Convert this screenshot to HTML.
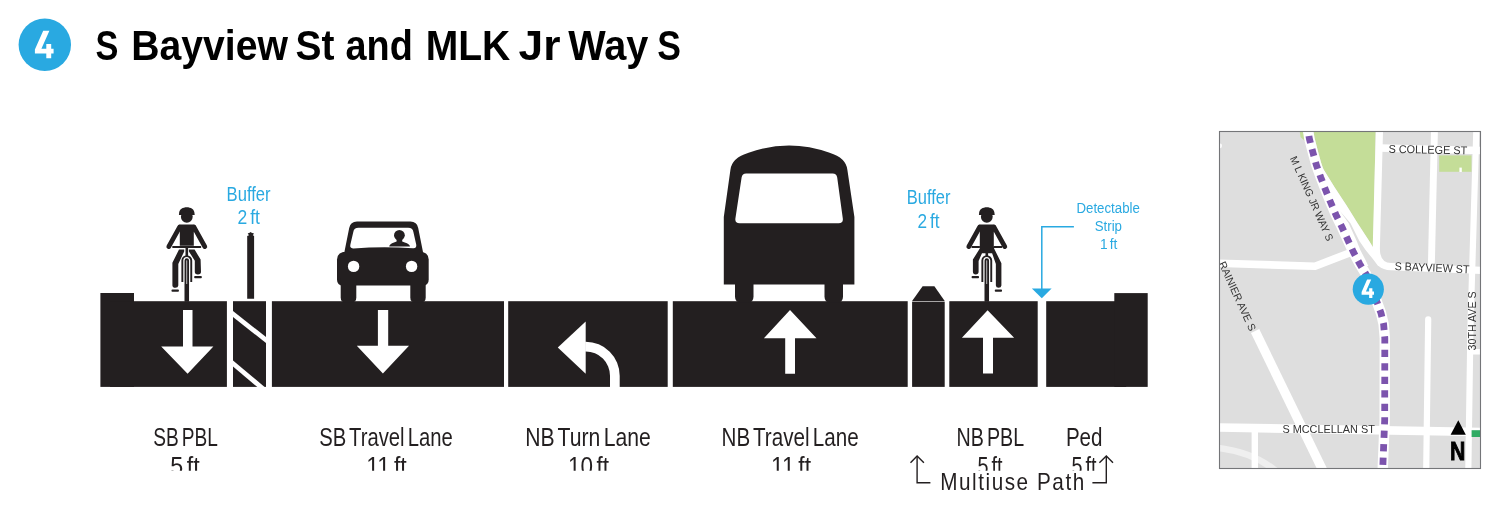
<!DOCTYPE html>
<html>
<head>
<meta charset="utf-8">
<title>S Bayview St and MLK Jr Way S</title>
<style>
html,body{margin:0;padding:0;background:#fff;}
body{width:1500px;height:506px;overflow:hidden;position:relative;font-family:"Liberation Sans",sans-serif;}
svg{position:absolute;left:0;top:0;display:block;will-change:transform;}
text{font-family:"Liberation Sans",sans-serif;}
</style>
</head>
<body>
<svg width="1500" height="506" viewBox="0 0 1500 506">
<defs>
  <clipPath id="lblclip"><rect x="0" y="400" width="1500" height="70.8"/></clipPath>
  <path id="mlk" d="M1307.6,128 L1309.4,138.8 L1312.8,152 L1316.3,164.8 L1320.8,177.5 L1325.6,190 L1330.8,202.8 L1336,214.9 L1341.9,227 L1347.4,239 L1353.3,251.9 L1359.6,263.7 L1366.2,274.5 L1372.3,289 L1377.4,303.2 L1381,313.1 L1383.6,324 L1384.8,338 L1384.7,420 L1382.6,472"/>
  <path id="four" d="M8.3,0 L14.5,0 L6.5,18 L11.4,18 L11.4,13.1 L16.3,13.1 L16.3,18 L18.7,18 L18.7,22.8 L16.3,22.8 L16.3,27.4 L11.4,27.4 L11.4,22.8 L0,22.8 L0,18.7 Z"/>
  <clipPath id="mapclip"><rect x="1219.5" y="131.5" width="261" height="337"/></clipPath>
</defs>

<!-- ===== TITLE ===== -->
<g id="title">
  <circle cx="44.8" cy="44.8" r="26.2" fill="#29a9e1"/>
  <use href="#four" transform="translate(34.9,30.8)" fill="#fff"/>
  <g font-size="41.8" font-weight="bold" fill="#000">
    <text x="95.6" y="60" textLength="22.9" lengthAdjust="spacingAndGlyphs">S</text>
    <text x="131.3" y="60" textLength="156.6" lengthAdjust="spacingAndGlyphs">Bayview</text>
    <text x="295.6" y="60" textLength="38.9" lengthAdjust="spacingAndGlyphs">St</text>
    <text x="345.5" y="60" textLength="67.3" lengthAdjust="spacingAndGlyphs">and</text>
    <text x="425.7" y="60" textLength="84.6" lengthAdjust="spacingAndGlyphs">MLK</text>
    <text x="518.5" y="60" textLength="41.9" lengthAdjust="spacingAndGlyphs">Jr</text>
    <text x="568.2" y="60" textLength="80.1" lengthAdjust="spacingAndGlyphs">Way</text>
    <text x="657.2" y="60" textLength="23.7" lengthAdjust="spacingAndGlyphs">S</text>
  </g>
</g>

<!-- ===== ROAD BAND ===== -->
<g id="road" fill="#231f20">
  <!-- left curb -->
  <rect x="100.4" y="293" width="33.6" height="93.9"/>
  <!-- SB PBL -->
  <rect x="110" y="301.2" width="116.9" height="85.7"/>
  <!-- buffer (striped) -->
  <rect x="233" y="301.2" width="33" height="85.7"/>
  <!-- SB travel -->
  <rect x="271.9" y="301.2" width="232.1" height="85.7"/>
  <!-- NB turn -->
  <rect x="508.2" y="301.2" width="159.5" height="85.7"/>
  <!-- NB travel -->
  <rect x="672.8" y="301.2" width="234.9" height="85.7"/>
  <!-- NB buffer curb -->
  <rect x="912.1" y="301.6" width="32.6" height="85.3"/>
  <polygon points="912.1,301.1 922.6,286.2 934.4,286.2 944.7,301.1"/>
  <!-- NB PBL -->
  <rect x="949.3" y="301.2" width="88.4" height="85.7"/>
  <!-- Ped -->
  <rect x="1046.2" y="301.2" width="80" height="85.7"/>
  <!-- right curb -->
  <rect x="1114.3" y="293.1" width="33.4" height="93.8"/>
</g>

<!-- buffer diagonal stripes -->
<g id="stripes" stroke="#fff" stroke-width="4.7" fill="none">
  <clipPath id="bufclip"><rect x="233" y="301.2" width="33" height="85.7"/></clipPath>
  <g clip-path="url(#bufclip)">
    <line x1="230" y1="311.6" x2="268" y2="341.7"/>
    <line x1="230" y1="361.0" x2="268" y2="392.9"/>
  </g>
</g>

<!-- ===== LANE ARROWS ===== -->
<g id="arrows" fill="#fff">
  <!-- SB PBL down -->
  <polygon points="183,310 192.5,310 192.5,346.4 213.4,346.4 187.6,373.7 161.2,346.4 183,346.4"/>
  <!-- SB travel down -->
  <polygon points="377.9,310 388.2,310 388.2,345.7 409,345.7 382.9,373.6 356.8,345.7 377.9,345.7"/>
  <!-- NB travel up -->
  <polygon points="790,310 816.5,338.3 795,338.3 795,373.7 785.2,373.7 785.2,338.3 763.9,338.3"/>
  <!-- NB PBL up -->
  <polygon points="987.6,310.3 1014.1,337.8 993,337.8 993,373.5 983,373.5 983,337.8 961.9,337.8"/>
  <!-- turn arrow -->
  <polygon points="557.8,347.6 585.7,321.5 585.7,373.7"/>
  <path d="M585.2,341.7 L585.7,341.7 A34,34 0 0 1 619.7,375.7 L619.7,390 L610,390 L610,375.7 A24.3,24.3 0 0 0 585.7,351.4 L585.2,351.4 Z"/>
</g>

<!-- ===== LABELS ===== -->
<g id="labels" fill="#231f20" font-size="25" word-spacing="-3" clip-path="url(#lblclip)">
  <text x="153.2" y="446" textLength="64.6" lengthAdjust="spacingAndGlyphs">SB PBL</text>
  <text x="170.2" y="475.4" textLength="29.6" lengthAdjust="spacingAndGlyphs">5 ft</text>
  <text x="319.2" y="446" textLength="133.6" lengthAdjust="spacingAndGlyphs">SB Travel Lane</text>
  <text x="366.2" y="475.4" textLength="40.6" lengthAdjust="spacingAndGlyphs">11 ft</text>
  <text x="525.2" y="446" textLength="125.6" lengthAdjust="spacingAndGlyphs">NB Turn Lane</text>
  <text x="568.0" y="475.4" textLength="41.1" lengthAdjust="spacingAndGlyphs">10 ft</text>
  <text x="721.5" y="446" textLength="137.1" lengthAdjust="spacingAndGlyphs">NB Travel Lane</text>
  <text x="770.9" y="475.4" textLength="40.1" lengthAdjust="spacingAndGlyphs">11 ft</text>
  <text x="956.5" y="446" textLength="67.6" lengthAdjust="spacingAndGlyphs">NB PBL</text>
  <text x="977.5" y="475.4" textLength="25.1" lengthAdjust="spacingAndGlyphs">5 ft</text>
  <text x="1065.9" y="446" textLength="36.6" lengthAdjust="spacingAndGlyphs">Ped</text>
  <text x="1071.5" y="475.4" textLength="25.1" lengthAdjust="spacingAndGlyphs">5 ft</text>
</g>

<!-- multiuse path bracket -->
<g id="multiuse">
  <g stroke="#231f20" stroke-width="1.4" fill="none">
    <polyline points="930.4,482.8 917.1,482.8 917.1,456.4"/>
    <polyline points="910.5,462.8 917.1,455.9 923.9,462.8"/>
    <polyline points="1092.4,482.8 1106.3,482.8 1106.3,456.4"/>
    <polyline points="1099.4,462.8 1106.3,455.9 1113.0,462.8"/>
  </g>
  <text transform="translate(940.2,490.0) scale(0.9,1)" font-size="23" fill="#231f20" textLength="160" lengthAdjust="spacing">Multiuse Path</text>
</g>

<!-- ===== BLUE ANNOTATIONS ===== -->
<g id="blue" fill="#29a9e1" word-spacing="-2">
  <text x="226.6" y="201" font-size="20.2" textLength="44" lengthAdjust="spacingAndGlyphs">Buffer</text>
  <text x="237.4" y="224.4" font-size="20.2" textLength="22.6" lengthAdjust="spacingAndGlyphs">2 ft</text>
  <text x="906.8" y="204" font-size="20.2" textLength="43.6" lengthAdjust="spacingAndGlyphs">Buffer</text>
  <text x="917.4" y="227.6" font-size="20.2" textLength="22.2" lengthAdjust="spacingAndGlyphs">2 ft</text>
  <text x="1076.5" y="213" font-size="15.5" textLength="63.3" lengthAdjust="spacingAndGlyphs">Detectable</text>
  <text x="1094.7" y="230.8" font-size="15.5" textLength="27.3" lengthAdjust="spacingAndGlyphs">Strip</text>
  <text x="1100" y="248.9" font-size="15.5" textLength="17.3" lengthAdjust="spacingAndGlyphs">1 ft</text>
  <polyline points="1073.9,226.8 1041.8,226.8 1041.8,290" fill="none" stroke="#29a9e1" stroke-width="1.5"/>
  <polygon points="1031.9,288.5 1051.6,288.5 1041.8,298.2"/>
</g>

<!-- ===== ICONS ===== -->
<defs>
  <g id="rider">
    <!-- helmet + head -->
    <path d="M-7.9,215 L-7.7,213.2 C-7.7,205.1 7.7,205.1 7.7,213.2 L7.9,215 Z"/>
    <ellipse cx="0" cy="216.8" rx="5.9" ry="6.0"/>
    <!-- arms -->
    <path d="M-7.2,227.2 L-18.0,246.6 M7.2,227.2 L18.0,246.6" stroke="#231f20" stroke-width="4.8" stroke-linecap="round" fill="none"/>
    <!-- wheel / fork -->
    <path d="M-4.45,282 L-4.45,260.6 A4.45,4.45 0 0 1 4.45,260.6 L4.45,282" stroke="#231f20" stroke-width="1.9" fill="none"/>
    <path d="M-1.3,301.5 L-1.3,260.5 A1.3,1.3 0 0 1 1.3,260.5 L1.3,301.5" stroke="#231f20" stroke-width="1.9" fill="none"/>
    <rect x="-1.9" y="284" width="3.8" height="17.6"/>
    <rect x="-1.3" y="247" width="2.6" height="9"/>
  </g>
</defs>
<g id="icons" fill="#231f20">
  <!-- cyclist 1 (front) -->
  <g transform="translate(186.8,0)">
    <use href="#rider"/>
    <path d="M-8.9,226.6 Q-8.9,224.5 -6.9,224.5 L6.9,224.5 Q8.9,224.5 8.9,226.6 L7.0,232 L7.0,245.8 L-7.0,245.8 L-7.0,232 Z"/>
    <rect x="-14.6" y="245.9" width="29.0" height="2.0" rx="0.6"/>
    <path d="M-7.8,249.5 L-2.6,249.5 L-2.6,251.4 L-8.5,263.9 L-8.5,285.4 Q-8.7,287.8 -11.4,287.8 Q-14.2,287.8 -14.4,285.4 L-14.4,262.8 Z"/>
    <path d="M2.1,249.5 L7.8,249.5 L13.8,259.6 L14.2,271.8 Q14.2,274.5 11.1,274.5 Q8,274.5 8,271.8 L8,260.7 L2.1,251.4 Z"/>
    <rect x="-15.3" y="289.5" width="7.4" height="2.2" rx="0.8"/>
    <rect x="7.4" y="276.0" width="7.6" height="2.2" rx="0.8"/>
  </g>
  <!-- cyclist 2 (rear) -->
  <g transform="translate(986.8,0)">
    <use href="#rider"/>
    <path d="M-8.9,226.4 Q-8.9,224.4 -6.9,224.4 L6.9,224.4 Q8.9,224.4 8.9,226.4 L7.0,232 L7.0,246 L7.3,248.4 L14.6,263.3 L14.6,285.4 Q14.4,287.8 11.8,287.8 Q9.2,287.8 9.05,285.4 L9.05,263.9 L5.3,253.2 L-4.8,253.2 L-8.2,261 L-8.2,271.8 Q-8.3,274.4 -11.1,274.4 Q-13.8,274.4 -13.9,271.8 L-13.9,259.6 L-7.0,248.4 L-7.0,232 Z"/>
    <rect x="-15.4" y="245.9" width="8.6" height="2.0" rx="0.6"/>
    <rect x="6.8" y="245.9" width="8.6" height="2.0" rx="0.6"/>
    <rect x="8.0" y="289.5" width="7.2" height="2.2" rx="0.8"/>
    <rect x="-15.2" y="276.0" width="7.4" height="2.2" rx="0.8"/>
  </g>

  <!-- delineator post -->
  <path d="M247.2,298.7 L247.2,236.1 L249,235.2 L247.7,233.4 L249.6,232.7 L250.6,231.9 L251.6,232.7 L254,233.4 L252.8,235.2 L254.1,236.1 L254.1,298.7 Z"/>

  <!-- car -->
  <path d="M344,254 L349.2,228 Q350.4,221.5 357,221.5 L410.4,221.5 Q417,221.5 418.2,228 L423.4,254 Z"/>
  <path d="M343,252 L422.7,252 Q428.7,253.6 428.7,259.5 L428.7,279.5 Q428.7,285.6 422.7,285.6 L343,285.6 Q337,285.6 337,279.5 L337,259.5 Q337,253.6 343,252 Z"/>
  <path d="M340.7,278 L356.3,278 L356.3,297.4 Q356.3,302.4 351.3,302.4 L345.7,302.4 Q340.7,302.4 340.7,297.4 Z"/>
  <path d="M410.3,278 L425.7,278 L425.7,297.4 Q425.7,302.4 420.7,302.4 L415.3,302.4 Q410.3,302.4 410.3,297.4 Z"/>
  <path d="M353.3,232 Q354,227.8 358.5,227.8 L408.2,227.8 Q412.7,227.8 413.4,232 L416.2,244.6 Q417,248.4 413,248.2 Q383.3,246 353.4,248.4 Q349.4,248.6 350.4,244.6 Z" fill="#fff"/>
  <circle cx="399.4" cy="235.3" r="5.4"/>
  <path d="M389.2,246.6 Q389.6,243.6 394,242.4 L396.6,241.4 L396.6,239 L402.2,239 L402.2,241.4 L404.8,242.4 Q409.6,243.6 410,246.6 Z"/>
  <circle cx="353.6" cy="266.4" r="5.7" fill="#fff"/>
  <circle cx="411.6" cy="266.4" r="5.7" fill="#fff"/>

  <!-- bus -->
  <path d="M723.8,284.6 L723.8,217 L730.4,170 Q731.6,158 748.6,152.8 Q789.1,138.2 829.6,152.8 Q846.2,158 847.4,170 L854.4,217 L854.4,284.6 L723.8,284.6 Z"/>
  <path d="M735,280 L753.5,280 L753.5,296.4 Q753.5,302.6 747.3,302.6 L741.2,302.6 Q735,302.6 735,296.4 Z"/>
  <path d="M824.5,280 L843,280 L843,296.4 Q843,302.6 836.8,302.6 L830.7,302.6 Q824.5,302.6 824.5,296.4 Z"/>
  <path d="M741.6,177.4 Q742.2,173.4 746.2,173.4 L832.6,173.4 Q836.6,173.4 837.2,177.4 L842.8,218.4 Q843.4,223.2 838.6,223.2 L739.6,223.2 Q734.8,223.2 735.4,218.4 Z" fill="#fff"/>
</g>

<!-- ===== MAP ===== -->
<g id="map">
  <rect x="1219.5" y="131.5" width="261" height="337" fill="#dedede"/>
  <g clip-path="url(#mapclip)">
    <!-- park -->
    <polygon points="1313.4,131 1375.6,131 1373.2,248 1373.6,248.2 1369.2,241 1357.6,223.3 1346.6,205.5 1334.9,187.8 1323.9,170 1321.7,164.8 1318.2,152 1314.8,138.8" fill="#c4dd98"/>
    <polygon points="1299.7,131 1304.6,131 1304.8,141 1300.5,137" fill="#c4dd98"/>
    <rect x="1439.2" y="155.4" width="32.3" height="16.4" fill="#c4dd98"/>
    <!-- white roads -->
    <g stroke="#fff" fill="none" stroke-linecap="butt" stroke-linejoin="round">
      <!-- curved light road bottom-left -->
      <path d="M1215,447.6 Q1252,451.5 1276,471" stroke="#efefef" stroke-width="6.5"/>
      <!-- MLK -->
      <use href="#mlk" stroke-width="10.4"/>
      <!-- road right of park + Bayview -->
      <path d="M1379.5,128 L1376.3,248 Q1376,266.3 1391,266.7 L1484,270.6" stroke-width="7.2"/>
      <polygon points="1318,165 1323.9,170 1334.9,187.8 1346.6,205.5 1357.6,223.3 1369.2,241 1373.6,248.2 1379,256 1379,266 1362,266 1353.3,251.9 1341.9,227 1330.8,202.8 1320.8,177.5 1316.3,164.8" fill="#fff" stroke="none"/>
      <polygon points="1339.9,210.9 1348.7,223.3 1356.7,241 1360.3,250 1365.5,260 1368.6,266.5 1378.5,266.5 1372.7,258.8 1365.6,250 1359.4,241 1350.5,223.3" fill="#dedede" stroke="none"/>
      <!-- College -->
      <path d="M1380,148 L1484,150.5" stroke-width="7.5"/>
      <!-- vertical 2 -->
      <path d="M1434.5,128 L1431.3,268" stroke-width="6.9"/>
      <!-- 30th ave -->
      <path d="M1476.4,128 L1470.4,330 L1468.3,472" stroke-width="6.2"/>
      <path d="M1470,351.7 L1484,351.7" stroke-width="5.4"/>
      <!-- left horizontal road -->
      <path d="M1215,263.2 L1315,266.2 L1352,252" stroke-width="7.6"/>
      <!-- Rainier -->
      <path d="M1255.1,331 L1323.6,472" stroke-width="9.2"/>
      <!-- McClellan -->
      <path d="M1215,427.4 L1484,432" stroke-width="8.6"/>
      <!-- small vertical bottom-left -->
      <path d="M1254.8,430 L1254.8,472" stroke-width="6.4"/>
      <!-- vertical from 316 -->
      <path d="M1428.2,319.4 L1426.2,472" stroke-width="6.2" stroke-linecap="round"/>
    </g>
    <rect x="1459.4" y="167.6" width="2.4" height="4.4" fill="#fff"/>
    <ellipse cx="1220.4" cy="145.8" rx="1.5" ry="2.4" fill="#fff"/>
    <!-- green bit -->
    <rect x="1471.6" y="430.2" width="10" height="6.8" fill="#2fab63"/>
    <!-- purple dashes -->
    <use href="#mlk" stroke="#7c54ad" stroke-width="6.8" fill="none" stroke-dasharray="7.2 6.27" stroke-dashoffset="5.4" stroke-linejoin="round"/>
    <!-- labels -->
    <g fill="#333" font-size="11.4">
      <text transform="translate(1388.4,152.7) rotate(1.2)" textLength="78.8" lengthAdjust="spacingAndGlyphs">S COLLEGE ST</text>
      <text transform="translate(1394.4,269.9) rotate(2.6)" textLength="75" lengthAdjust="spacingAndGlyphs">S BAYVIEW ST</text>
      <text x="1282.4" y="432.9" font-size="11.8" textLength="92.4" lengthAdjust="spacingAndGlyphs">S MCCLELLAN ST</text>
      <text transform="translate(1289.8,158.2) rotate(66)" textLength="91.5" lengthAdjust="spacingAndGlyphs" font-size="10.6">M L KING JR WAY S</text>
      <text transform="translate(1218.5,263.5) rotate(65.5)" textLength="75" lengthAdjust="spacingAndGlyphs" font-size="10.6">RAINIER AVE S</text>
      <text transform="translate(1475.5,350.4) rotate(-90)" textLength="59" lengthAdjust="spacingAndGlyphs" font-size="10.6">30TH AVE S</text>
    </g>
    <!-- north arrow -->
    <polygon points="1458.3,420.2 1465.8,434.7 1450.6,434.7" fill="#000"/>
    <text x="1449.9" y="460.3" font-size="25.2" font-weight="bold" fill="#000" stroke="#000" stroke-width="0.9" stroke-linejoin="miter" textLength="15.3" lengthAdjust="spacingAndGlyphs">N</text>
    <!-- marker -->
    <circle cx="1368.3" cy="289.2" r="15.6" fill="#29a9e1"/>
    <use href="#four" transform="translate(1361.6,279.5) scale(0.662,0.672)" fill="#fff"/>
  </g>
  <rect x="1219.5" y="131.5" width="261" height="337" fill="none" stroke="#747578" stroke-width="1.1"/>
</g>

</svg>
</body>
</html>
